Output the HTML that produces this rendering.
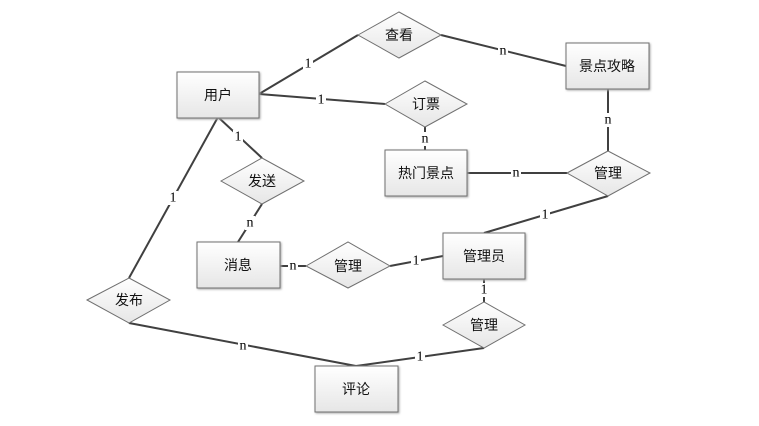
<!DOCTYPE html>
<html><head><meta charset="utf-8"><style>
html,body{margin:0;padding:0;background:#fff;}
svg{display:block;}
text{font-family:"Liberation Sans","Noto Sans CJK SC",sans-serif;}
.l text{font-family:"Liberation Serif","Noto Serif CJK SC",serif;font-size:14px;}
</style></head><body>
<svg width="759" height="426" viewBox="0 0 759 426" xmlns="http://www.w3.org/2000/svg">
<defs>
<linearGradient id="g" x1="0" y1="0" x2="0" y2="1"><stop offset="0" stop-color="#ffffff"/><stop offset="1" stop-color="#e6e6e6"/></linearGradient>
</defs>
<g stroke="#404040" stroke-width="2" fill="none">
<line x1="259" y1="94" x2="358" y2="35"/>
<line x1="441" y1="35" x2="566" y2="66"/>
<line x1="259" y1="94" x2="385" y2="104"/>
<line x1="425" y1="127" x2="425" y2="150"/>
<line x1="467" y1="173" x2="567" y2="173"/>
<line x1="608" y1="89" x2="608" y2="151"/>
<line x1="608" y1="196" x2="484" y2="233"/>
<line x1="218" y1="117" x2="262" y2="158"/>
<line x1="262" y1="204" x2="238" y2="242"/>
<line x1="218" y1="117" x2="129" y2="278"/>
<line x1="280" y1="266" x2="306" y2="266"/>
<line x1="390" y1="266" x2="443" y2="256"/>
<line x1="484" y1="279" x2="484" y2="302"/>
<line x1="484" y1="348" x2="356" y2="366"/>
<line x1="129" y1="323" x2="356" y2="366"/>
</g>
<g fill="url(#g)" stroke="#707070" stroke-width="1">
<rect x="177" y="72" width="82" height="46" style="filter:drop-shadow(1px 1px 1px #aaa)"/>
<rect x="566" y="43" width="83" height="46" style="filter:drop-shadow(1px 1px 1px #aaa)"/>
<rect x="385" y="150" width="82" height="46" style="filter:drop-shadow(1px 1px 1px #aaa)"/>
<rect x="197" y="242" width="83" height="46" style="filter:drop-shadow(1px 1px 1px #aaa)"/>
<rect x="443" y="233" width="82" height="46" style="filter:drop-shadow(1px 1px 1px #aaa)"/>
<rect x="315" y="366" width="83" height="46" style="filter:drop-shadow(1px 1px 1px #aaa)"/>
<polygon points="358,35 399,12 441,35 399,58"/>
<polygon points="385,104 425,81 467,104 425,127"/>
<polygon points="567,173 608,151 650,173 608,196"/>
<polygon points="221,181 262,158 304,181 262,204"/>
<polygon points="306,266 348,242 390,266 348,288"/>
<polygon points="443,325 484,302 525,325 484,348"/>
<polygon points="87,300 129,278 170,300 129,323"/>
</g>
<g font-size="14" fill="#111" text-anchor="middle" dominant-baseline="central">
<text x="218" y="95">用户</text>
<text x="607" y="66">景点攻略</text>
<text x="426" y="173">热门景点</text>
<text x="238" y="265">消息</text>
<text x="484" y="256">管理员</text>
<text x="356" y="389">评论</text>
<text x="399" y="35">查看</text>
<text x="426" y="104">订票</text>
<text x="608" y="173">管理</text>
<text x="262" y="181">发送</text>
<text x="348" y="266">管理</text>
<text x="484" y="325">管理</text>
<text x="129" y="300">发布</text>
</g>
<g class="l" fill="#000" text-anchor="middle" dominant-baseline="central">
<g fill="#fff"><rect x="303" y="57" width="10" height="14"/><rect x="498" y="44" width="10" height="14"/><rect x="316" y="93" width="10" height="14"/><rect x="420" y="132" width="10" height="14"/><rect x="511" y="166" width="10" height="14"/><rect x="603" y="113" width="10" height="14"/><rect x="540" y="208" width="10" height="14"/><rect x="233" y="130" width="10" height="14"/><rect x="245" y="216" width="10" height="14"/><rect x="168" y="191" width="10" height="14"/><rect x="288" y="259" width="10" height="14"/><rect x="411" y="254" width="10" height="14"/><rect x="479" y="283" width="10" height="14"/><rect x="415" y="350" width="10" height="14"/><rect x="238" y="339" width="10" height="14"/></g>
<text x="308" y="64">1</text>
<text x="503" y="51">n</text>
<text x="321" y="100">1</text>
<text x="425" y="139">n</text>
<text x="516" y="173">n</text>
<text x="608" y="120">n</text>
<text x="545" y="215">1</text>
<text x="238" y="137">1</text>
<text x="250" y="223">n</text>
<text x="173" y="198">1</text>
<text x="293" y="266">n</text>
<text x="416" y="261">1</text>
<text x="484" y="290">1</text>
<text x="420" y="357">1</text>
<text x="243" y="346">n</text>
</g>
</svg>
</body></html>
